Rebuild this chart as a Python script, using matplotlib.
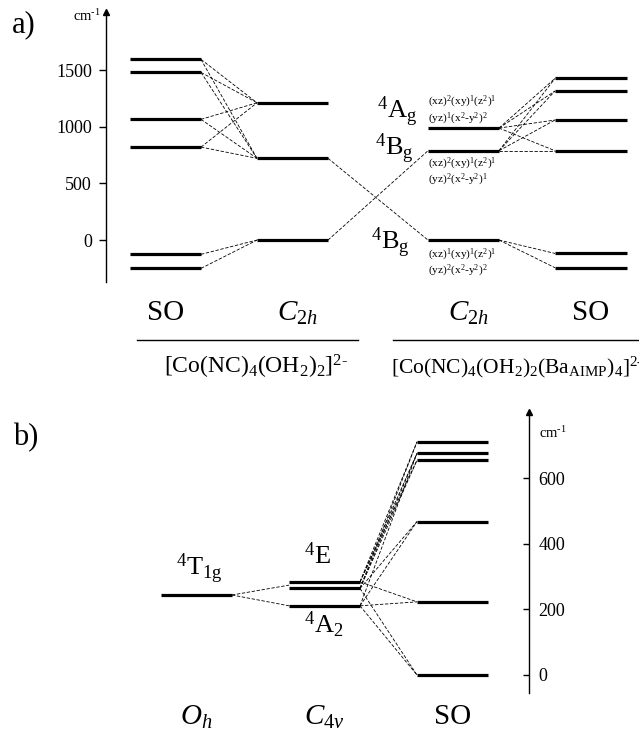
import numpy as np
import matplotlib.pyplot as plt
from matplotlib.transforms import blended_transform_factory

plt.rcParams["font.family"] = "Liberation Serif"
plt.rcParams["mathtext.fontset"] = "custom"
plt.rcParams["mathtext.rm"] = "Liberation Serif"
plt.rcParams["mathtext.it"] = "Liberation Serif:italic"
plt.rcParams["mathtext.bf"] = "Liberation Serif:bold"

# ---- panel a: energies (cm-1)
so_left = [1594, 1479, 1065, 820, -126, -250]
c2h_left = [1211, 721, 0]
c2h_right = [988, 788, 0]
so_right = [1426, 1315, 1059, 788, -118, -244]
a_ticks = [0, 500, 1000, 1500]
# correlation lines (index pairs)
links_left = [(0, 0), (0, 1), (1, 0), (1, 1), (2, 0), (2, 1), (3, 0), (3, 1), (4, 2), (5, 2)]
links_mid = [(1, 2), (2, 1)]
links_right = [(0, 0), (0, 1), (0, 2), (0, 3), (1, 0), (1, 1), (1, 2), (1, 3), (2, 4), (2, 5)]
state_labels = [r"$^4$A$_\mathrm{g}$", r"$^4$B$_\mathrm{g}$", r"$^4$B$_\mathrm{g}$"]
config_labels = [
    (r"(xz)$^2$(xy)$^1$(z$^2$)$^1$", r"(yz)$^1$(x$^2$-y$^2$)$^2$"),
    (r"(xz)$^2$(xy)$^1$(z$^2$)$^1$", r"(yz)$^2$(x$^2$-y$^2$)$^1$"),
    (r"(xz)$^1$(xy)$^1$(z$^2$)$^1$", r"(yz)$^2$(x$^2$-y$^2$)$^2$"),
]

# ---- panel b
oh = [244]
c4v = [284, 264, 211]
so_b = [711, 676, 655, 468, 223, 0]
b_ticks = [0, 200, 400, 600]
links_b = [(0, 0), (0, 1), (0, 2), (0, 4), (1, 0), (1, 1), (1, 2), (1, 3), (1, 5),
           (2, 1), (2, 3), (2, 4), (2, 5)]

W, H = 639, 730
fig = plt.figure(figsize=(W / 100, H / 100), dpi=100)


def px_axes(left, top, right, bottom):
    return fig.add_axes([left / W, 1 - bottom / H, (right - left) / W, (bottom - top) / H])


def levels(ax, x0, x1, ys):
    ax.hlines(ys, x0, x1, colors="k", lw=2.3, capstyle="butt")


def link(ax, xa, ya, xb, yb):
    ax.plot([xa, xb], [ya, yb], color="k", lw=0.6, dashes=(4, 2))


cm_label = r"cm$^{\text{-}\mathrm{1}}$"

# ================= panel a
ax = px_axes(106, 12, 639, 282)
ax.set_xlim(0, 533)
ax.set_ylim(-370, 2012)
for s in ["top", "right", "bottom"]:
    ax.spines[s].set_visible(False)
ax.spines["left"].set_linewidth(1.0)
ax.set_xticks([])
ax.set_yticks(a_ticks)
ax.tick_params(axis="y", direction="out", length=5, width=1, labelsize=13, pad=5)
ax.plot([0], [1], marker="^", ms=4, color="k", transform=ax.transAxes, clip_on=False)

cols_a = [(24, 95), (151, 222), (322, 393), (449, 521)]
levels(ax, *cols_a[0], so_left)
levels(ax, *cols_a[1], c2h_left)
levels(ax, *cols_a[2], c2h_right)
levels(ax, *cols_a[3], so_right)
for i, j in links_left:
    link(ax, cols_a[0][1], so_left[i], cols_a[1][0], c2h_left[j])
for i, j in links_mid:
    link(ax, cols_a[1][1], c2h_left[i], cols_a[2][0], c2h_right[j])
for i, j in links_right:
    link(ax, cols_a[2][1], c2h_right[i], cols_a[3][0], so_right[j])

# state labels next to the right C2h levels
state_off = [(-8, 7.2), (-10.5, -3.5), (-13, -7)]
for lab, y, off in zip(state_labels, c2h_right, state_off):
    ax.annotate(lab, (cols_a[2][0], y), xytext=off, textcoords="offset points",
                ha="right", va="baseline", fontsize=19)
cfg_off = [(18.5, 6.5), (-9.5, -21.3), (-10.5, -22.3)]
for (l1, l2), y, (o1, o2) in zip(config_labels, c2h_right, cfg_off):
    for lab, o in [(l1, o1), (l2, o2)]:
        ax.annotate(lab, (cols_a[2][0], y), xytext=(0, o), textcoords="offset points",
                    ha="left", va="center", fontsize=8.2)

fig.text(73 / W, 1 - 16 / H, cm_label, fontsize=10.5, va="center", ha="left")
fig.text(12 / W, 1 - 25 / H, "a)", fontsize=22, va="center", ha="left")

tr = blended_transform_factory(ax.transData, fig.transFigure)
head = ["SO", r"$C_{2h}$", r"$C_{2h}$", "SO"]
for (x0, x1), t in zip(cols_a, head):
    ax.text((x0 + x1) / 2 + (5 if "C" in t else 0), 1 - 313 / H, t, transform=tr,
            ha="center", va="center", fontsize=21)
fig.add_artist(plt.Line2D([137 / W, 358 / W], [1 - 340 / H] * 2, color="k", lw=1.0))
fig.add_artist(plt.Line2D([393 / W, 1.0], [1 - 340 / H] * 2, color="k", lw=1.0))
fig.text(256 / W, 1 - 367 / H, r"[Co(NC)$_4$(OH$_2$)$_2$]$^{2\text{-}}$",
         ha="center", va="center", fontsize=17)
fig.text(391 / W, 1 - 367 / H,
         r"[Co(NC)$_4$(OH$_2$)$_2$(Ba$_\mathrm{AIMP}$)$_4$]$^{2\text{-}}$",
         ha="left", va="center", fontsize=15.5)

# ================= panel b
bx = px_axes(0, 411.7, 529, 692.7)
bx.set_xlim(0, 529)
bx.set_ylim(-54, 803)
for s in ["top", "left", "bottom"]:
    bx.spines[s].set_visible(False)
bx.spines["right"].set_linewidth(1.0)
bx.set_xticks([])
bx.yaxis.tick_right()
bx.set_yticks(b_ticks)
bx.tick_params(axis="y", direction="in", length=4.5, width=1, labelsize=13, pad=7)
bx.plot([1], [1], marker="^", ms=4, color="k", transform=bx.transAxes, clip_on=False)

cols_b = [(161, 232), (289, 360), (417, 488)]
levels(bx, *cols_b[0], oh)
levels(bx, *cols_b[1], c4v)
levels(bx, *cols_b[2], so_b)
e_mid = np.mean(c4v[:2])
for y in [e_mid, c4v[2]]:
    link(bx, cols_b[0][1], oh[0], cols_b[1][0], y)
for i, j in links_b:
    link(bx, cols_b[1][1], c4v[i], cols_b[2][0], so_b[j])

bx.annotate(r"$^4$T$_\mathrm{1g}$", (cols_b[0][0], oh[0]), xytext=(11, 14),
            textcoords="offset points", ha="left", va="baseline", fontsize=19)
bx.annotate(r"$^4$E", (cols_b[1][0], c4v[0]), xytext=(11, 13),
            textcoords="offset points", ha="left", va="baseline", fontsize=19)
bx.annotate(r"$^4$A$_2$", (cols_b[1][0], c4v[2]), xytext=(11, -19.5),
            textcoords="offset points", ha="left", va="baseline", fontsize=19)

fig.text(539 / W, 1 - 433 / H, cm_label, fontsize=10.5, va="center", ha="left")
fig.text(13 / W, 1 - 438 / H, "b)", fontsize=22, va="center", ha="left")

trb = blended_transform_factory(bx.transData, fig.transFigure)
for (x0, x1), t in zip(cols_b, [r"$O_h$", r"$C_{4v}$", "SO"]):
    bx.text((x0 + x1) / 2, 1 - 717 / H, t, transform=trb, ha="center", va="center",
            fontsize=21)

fig.savefig("out.png", dpi=100, facecolor="white")
